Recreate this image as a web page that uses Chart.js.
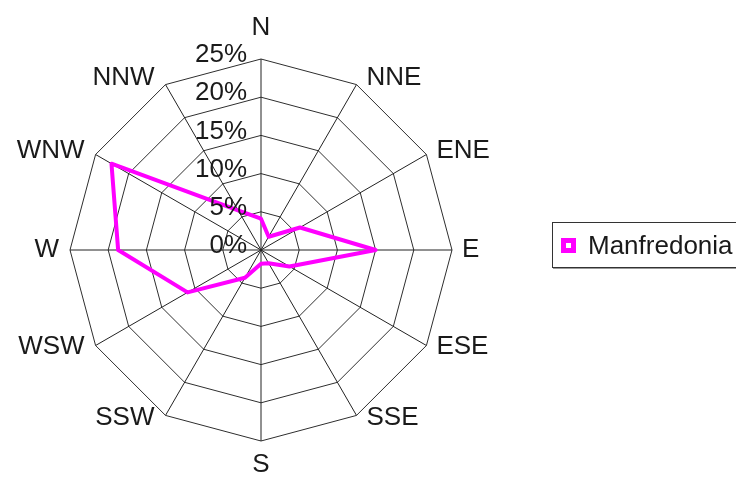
<!DOCTYPE html>
<html>
<head>
<meta charset="utf-8">
<script src="https://cdn.jsdelivr.net/npm/chart.js@4.4.0/dist/chart.umd.min.js"></script>
<style>
  html, body { margin: 0; padding: 0; background: #fff; overflow: hidden; }
  #wrap { position: relative; width: 736px; height: 477px; }
  #legend {
    position: absolute; left: 552px; top: 222px; width: 200px; height: 44px;
    border: 1px solid #333; box-shadow: 1px 1px 0 #999;
    display: flex; align-items: center; white-space: nowrap;
    font: 26px "Liberation Sans", Arial, sans-serif; color: #1a1a1a;
  }
  #legend .swatch {
    width: 5px; height: 5px; border: 5px solid #ff00ff; background: #fff;
    margin: 0 12px 0 8px;
  }
</style>
</head>
<body>
<div id="wrap">
  <canvas id="roseChart" width="736" height="477"></canvas>
  <div id="legend"></div>
</div>
<script>
// wind directions, clockwise from north
const directions = ['N', 'NNE', 'ENE', 'E', 'ESE', 'SSE', 'S', 'SSW', 'WSW', 'W', 'WNW', 'NNW'];
// frequency per direction (%)
const manfredonia = [4.1, 2.0, 5.9, 15.0, 4.3, 2.0, 1.8, 4.2, 11.1, 18.7, 22.6, 6.0];
const tickMin = 0;
const tickMax = 25;
const tickStep = 5;

const labelFont = '26px "Liberation Sans", Arial, sans-serif';

// draws the percent ticks along the north spoke and the direction names
const roseLabels = {
    id: 'roseLabels',
    afterDraw: function (chart) {
        const r = chart.scales.r;
        const ctx = chart.ctx;
        ctx.save();
        ctx.font = labelFont;
        ctx.fillStyle = '#1a1a1a';
        ctx.textBaseline = 'middle';

        ctx.textAlign = 'right';
        r.ticks.forEach(function (t) {
            const d = r.getDistanceFromCenterForValue(t.value);
            ctx.fillText(t.label, r.xCenter - 14, r.yCenter - d - 4);
        });

        directions.forEach(function (name, i) {
            const v = r.getPointPosition(i, r.drawingArea);
            const sin = (v.x - r.xCenter) / r.drawingArea;
            const cos = (r.yCenter - v.y) / r.drawingArea;
            let x = v.x, y = v.y;
            if (Math.abs(sin) < 0.01) {
                ctx.textAlign = 'center';
                y += cos > 0 ? -31 : 24;
            } else {
                ctx.textAlign = sin > 0 ? 'left' : 'right';
                x += sin > 0 ? 10 : -11;
                y += cos > 0 ? -8 * cos : -3 * cos;
            }
            ctx.fillText(name, x, y);
        });
        ctx.restore();
    }
};

const chart = new Chart(document.getElementById('roseChart').getContext('2d'), {
    type: 'radar',
    data: {
        labels: directions,
        datasets: [{
            label: 'Manfredonia',
            data: manfredonia,
            borderColor: '#ff00ff',
            backgroundColor: 'rgba(0,0,0,0)',
            borderWidth: 4,
            borderJoinStyle: 'round',
            fill: false,
            pointRadius: 0,
            pointHoverRadius: 0
        }]
    },
    options: {
        responsive: false,
        animation: false,
        devicePixelRatio: 1,
        layout: {
            padding: { left: 70, right: 284, top: 59, bottom: 36 }
        },
        scales: {
            r: {
                min: tickMin,
                max: tickMax,
                ticks: {
                    stepSize: tickStep,
                    display: false,
                    callback: function (v) { return v + '%'; }
                },
                grid: { color: '#2e2e2e', lineWidth: 1 },
                angleLines: { color: '#222', lineWidth: 1 },
                pointLabels: { display: false }
            }
        },
        plugins: {
            legend: { display: false },
            tooltip: { enabled: false }
        }
    },
    plugins: [roseLabels]
});

// legend box to the right of the rose
const legend = document.getElementById('legend');
chart.data.datasets.forEach(function (ds) {
    const sw = document.createElement('span');
    sw.className = 'swatch';
    sw.style.borderColor = ds.borderColor;
    const txt = document.createElement('span');
    txt.textContent = ds.label;
    legend.appendChild(sw);
    legend.appendChild(txt);
});
</script>
</body>
</html>
